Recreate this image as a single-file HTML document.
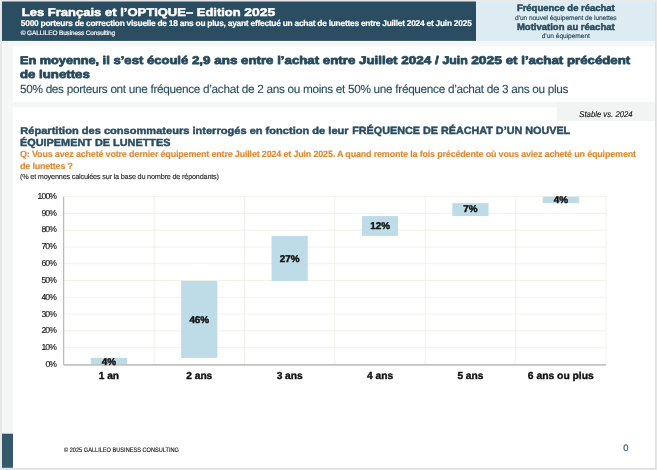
<!DOCTYPE html><html><head><meta charset="utf-8"><title>slide</title><style>
html,body{margin:0;padding:0;}body{width:657px;height:470px;background:#e8e8e8;position:relative;overflow:hidden;font-family:"Liberation Sans",sans-serif;}
.r{position:absolute;}svg{position:absolute;left:0;top:0;will-change:transform;}text{font-family:"Liberation Sans",sans-serif;white-space:pre;text-rendering:geometricPrecision;}
</style></head><body>
<svg width="657" height="470" viewBox="0 0 657 470">
<rect x="2" y="1.5" width="654.2" height="467.5" fill="#dedede"/>
<rect x="2" y="1.5" width="653" height="466.3" fill="#f5f6f6"/>
<rect x="2" y="41" width="653" height="1.2" fill="#fbfcfc"/>
<rect x="476" y="1.5" width="2" height="39.7" fill="#e1edf3"/>
<rect x="2" y="1.5" width="474" height="39.4" fill="#2a4d61"/>
<rect x="478" y="1.5" width="177" height="39.7" fill="#ddebf2"/>
<rect x="13" y="46.5" width="642" height="55.4" fill="#ffffff"/>
<rect x="13" y="107.4" width="642" height="360.4" fill="#ffffff"/>
<rect x="557" y="102" width="98" height="19" fill="#f2f4f4"/>
<rect x="2" y="433.7" width="11" height="34.1" fill="#33596a"/>
<line x1="63.7" x2="606.0" y1="347.62" y2="347.62" stroke="#efefe4" stroke-width="0.8"/>
<line x1="63.7" x2="606.0" y1="330.84" y2="330.84" stroke="#efefe4" stroke-width="0.8"/>
<line x1="63.7" x2="606.0" y1="314.06" y2="314.06" stroke="#efefe4" stroke-width="0.8"/>
<line x1="63.7" x2="606.0" y1="297.28" y2="297.28" stroke="#efefe4" stroke-width="0.8"/>
<line x1="63.7" x2="606.0" y1="280.50" y2="280.50" stroke="#efefe4" stroke-width="0.8"/>
<line x1="63.7" x2="606.0" y1="263.72" y2="263.72" stroke="#efefe4" stroke-width="0.8"/>
<line x1="63.7" x2="606.0" y1="246.94" y2="246.94" stroke="#efefe4" stroke-width="0.8"/>
<line x1="63.7" x2="606.0" y1="230.16" y2="230.16" stroke="#efefe4" stroke-width="0.8"/>
<line x1="63.7" x2="606.0" y1="213.38" y2="213.38" stroke="#efefe4" stroke-width="0.8"/>
<line x1="63.7" x2="606.0" y1="196.60" y2="196.60" stroke="#efefe4" stroke-width="0.8"/>
<line x1="154.08" x2="154.08" y1="196.6" y2="364.4" stroke="#efefe4" stroke-width="0.8"/>
<line x1="244.47" x2="244.47" y1="196.6" y2="364.4" stroke="#efefe4" stroke-width="0.8"/>
<line x1="334.85" x2="334.85" y1="196.6" y2="364.4" stroke="#efefe4" stroke-width="0.8"/>
<line x1="425.23" x2="425.23" y1="196.6" y2="364.4" stroke="#efefe4" stroke-width="0.8"/>
<line x1="515.62" x2="515.62" y1="196.6" y2="364.4" stroke="#efefe4" stroke-width="0.8"/>
<line x1="606.00" x2="606.00" y1="196.6" y2="364.4" stroke="#efefe4" stroke-width="0.8"/>
<rect x="90.79" y="357.86" width="36.20" height="6.54" fill="#bddce7"/>
<rect x="181.17" y="280.92" width="36.20" height="76.94" fill="#bddce7"/>
<rect x="271.56" y="235.87" width="36.20" height="45.05" fill="#bddce7"/>
<rect x="361.94" y="216.06" width="36.20" height="19.80" fill="#bddce7"/>
<rect x="452.32" y="203.14" width="36.20" height="12.92" fill="#bddce7"/>
<rect x="542.71" y="196.60" width="36.20" height="6.54" fill="#bddce7"/>
<line x1="63.7" x2="63.7" y1="196.6" y2="364.79999999999995" stroke="#a0a0a0" stroke-width="0.9"/>
<line x1="63.300000000000004" x2="606.0" y1="364.9" y2="364.9" stroke="#c2c2c2" stroke-width="1.6"/>
<text id="t2" x="20.80" y="26.40" font-size="8.4" font-weight="700" fill="#fff" text-anchor="start" textLength="451" lengthAdjust="spacing" stroke="#fff" stroke-width="0.2" stroke-linejoin="round">5000 porteurs de correction visuelle de 18 ans ou plus, ayant effectué un achat de lunettes entre Juillet 2024 et Juin 2025</text>
<text id="t3" x="20.80" y="34.60" font-size="6.5" font-weight="400" fill="#fff" text-anchor="start" textLength="94.3" lengthAdjust="spacing" stroke="#fff" stroke-width="0.15" stroke-linejoin="round">© GALLILEO Business Consulting</text>
<text id="h1" x="565.80" y="10.90" font-size="9.3" font-weight="700" fill="#2a4d61" text-anchor="middle" textLength="97.8" lengthAdjust="spacingAndGlyphs" stroke="#2a4d61" stroke-width="0.5" stroke-linejoin="round">Fréquence de réachat</text>
<text id="h2" x="565.80" y="20.10" font-size="6.6" font-weight="400" fill="#2a4d61" text-anchor="middle" textLength="101.6" lengthAdjust="spacing" stroke="#2a4d61" stroke-width="0.15" stroke-linejoin="round">d’un nouvel équipement de lunettes</text>
<text id="h3" x="565.80" y="29.70" font-size="9.3" font-weight="700" fill="#2a4d61" text-anchor="middle" textLength="97.8" lengthAdjust="spacingAndGlyphs" stroke="#2a4d61" stroke-width="0.5" stroke-linejoin="round">Motivation au réachat</text>
<text id="h4" x="565.80" y="38.30" font-size="6.6" font-weight="400" fill="#2a4d61" text-anchor="middle" textLength="48.2" lengthAdjust="spacing" stroke="#2a4d61" stroke-width="0.15" stroke-linejoin="round">d’un équipement</text>
<text id="b2" x="20.00" y="77.90" font-size="11.2" font-weight="700" fill="#26495d" text-anchor="start" textLength="69.8" lengthAdjust="spacingAndGlyphs" stroke="#26495d" stroke-width="0.75" stroke-linejoin="round">de lunettes</text>
<text id="b3" x="20.00" y="93.00" font-size="11.8" font-weight="400" fill="#2a4d61" text-anchor="start" textLength="548.5" lengthAdjust="spacing" stroke="#2a4d61" stroke-width="0.12" stroke-linejoin="round">50% des porteurs ont une fréquence d’achat de 2 ans ou moins et 50% une fréquence d’achat de 3 ans ou plus</text>
<text id="st" x="579.30" y="117.20" font-size="8.4" font-weight="400" fill="#111" text-anchor="start" textLength="53.3" lengthAdjust="spacingAndGlyphs" stroke="#111" stroke-width="0.12" stroke-linejoin="round" font-style="italic">Stable vs. 2024</text>
<text id="c1" x="20.30" y="133.70" font-size="10.0" font-weight="700" fill="#2a4d61" text-anchor="start" textLength="328.3" lengthAdjust="spacingAndGlyphs" stroke="#2a4d61" stroke-width="0.45" stroke-linejoin="round">Répartition des consommateurs interrogés en fonction de leur</text>
<text id="c1b" x="352.20" y="133.50" font-size="10.5" font-weight="700" fill="#2a4d61" text-anchor="start" textLength="218.0" lengthAdjust="spacingAndGlyphs" stroke="#2a4d61" stroke-width="0.45" stroke-linejoin="round">FRÉQUENCE DE RÉACHAT D’UN NOUVEL</text>
<text id="c2" x="20.00" y="145.80" font-size="10.3" font-weight="700" fill="#2a4d61" text-anchor="start" textLength="150.5" lengthAdjust="spacingAndGlyphs" stroke="#2a4d61" stroke-width="0.45" stroke-linejoin="round">ÉQUIPEMENT DE LUNETTES</text>
<text id="q1" x="20.00" y="157.30" font-size="9.0" font-weight="700" fill="#df8a30" text-anchor="start" textLength="616" lengthAdjust="spacing" stroke="#df8a30" stroke-width="0.15" stroke-linejoin="round">Q: Vous avez acheté votre dernier équipement entre Juillet 2024 et Juin 2025. A quand remonte la fois précédente où vous aviez acheté un équipement</text>
<text id="q2" x="20.00" y="168.80" font-size="9.0" font-weight="700" fill="#df8a30" text-anchor="start" textLength="53" lengthAdjust="spacing" stroke="#df8a30" stroke-width="0.15" stroke-linejoin="round">de lunettes ?</text>
<text id="n1" x="20.00" y="179.40" font-size="7.3" font-weight="400" fill="#222" text-anchor="start" textLength="199" lengthAdjust="spacing" stroke="#222" stroke-width="0.1" stroke-linejoin="round">(% et moyennes calculées sur la base du nombre de répondants)</text>
<text id="f1" x="64.00" y="451.70" font-size="6.5" font-weight="400" fill="#111" text-anchor="start" textLength="115" lengthAdjust="spacingAndGlyphs" stroke="#111" stroke-width="0.12" stroke-linejoin="round">© 2025 GALLILEO BUSINESS CONSULTING</text>
<text id="f2" x="623.20" y="451.00" font-size="9.4" font-weight="400" fill="#3b6277" text-anchor="start" stroke="#3b6277" stroke-width="0.2" stroke-linejoin="round">0</text>
<text id="b1_0" x="20.00" y="63.60" font-size="11.2" font-weight="700" fill="#26495d" text-anchor="start" textLength="82.6" lengthAdjust="spacingAndGlyphs" stroke="#26495d" stroke-width="0.75" stroke-linejoin="round">En moyenne, </text>
<text id="b1_1" x="102.60" y="63.60" font-size="11.2" font-weight="700" fill="#26495d" text-anchor="start" textLength="89.3" lengthAdjust="spacingAndGlyphs" stroke="#26495d" stroke-width="0.75" stroke-linejoin="round">il s’est écoulé </text>
<text id="b1_2" x="191.90" y="63.60" font-size="11.2" font-weight="700" fill="#26495d" text-anchor="start" textLength="49.2" lengthAdjust="spacingAndGlyphs" stroke="#26495d" stroke-width="0.75" stroke-linejoin="round">2,9 ans </text>
<text id="b1_3" x="241.10" y="63.60" font-size="11.2" font-weight="700" fill="#26495d" text-anchor="start" textLength="81.7" lengthAdjust="spacingAndGlyphs" stroke="#26495d" stroke-width="0.75" stroke-linejoin="round">entre l’achat </text>
<text id="b1_4" x="322.80" y="63.60" font-size="11.2" font-weight="700" fill="#26495d" text-anchor="start" textLength="78.4" lengthAdjust="spacingAndGlyphs" stroke="#26495d" stroke-width="0.75" stroke-linejoin="round">entre Juillet </text>
<text id="b1_5" x="401.20" y="63.60" font-size="11.2" font-weight="700" fill="#26495d" text-anchor="start" textLength="41.2" lengthAdjust="spacingAndGlyphs" stroke="#26495d" stroke-width="0.75" stroke-linejoin="round">2024 / </text>
<text id="b1_6" x="442.40" y="63.60" font-size="11.2" font-weight="700" fill="#26495d" text-anchor="start" textLength="28.8" lengthAdjust="spacingAndGlyphs" stroke="#26495d" stroke-width="0.75" stroke-linejoin="round">Juin </text>
<text id="b1_7" x="471.20" y="63.60" font-size="11.2" font-weight="700" fill="#26495d" text-anchor="start" textLength="34.5" lengthAdjust="spacingAndGlyphs" stroke="#26495d" stroke-width="0.75" stroke-linejoin="round">2025 </text>
<text id="b1_8" x="505.70" y="63.60" font-size="11.2" font-weight="700" fill="#26495d" text-anchor="start" textLength="61.3" lengthAdjust="spacingAndGlyphs" stroke="#26495d" stroke-width="0.75" stroke-linejoin="round">et l’achat </text>
<text id="b1_9" x="567.00" y="63.60" font-size="11.2" font-weight="700" fill="#26495d" text-anchor="start" textLength="63.2" lengthAdjust="spacingAndGlyphs" stroke="#26495d" stroke-width="0.75" stroke-linejoin="round">précédent</text>
<text id="t1_0" x="21.80" y="16.20" font-size="11.2" font-weight="700" fill="#fff" text-anchor="start" textLength="175.0" lengthAdjust="spacingAndGlyphs" stroke="#fff" stroke-width="0.5" stroke-linejoin="round">Les Français et l’OPTIQUE– </text>
<text id="t1_1" x="196.80" y="16.20" font-size="11.2" font-weight="700" fill="#fff" text-anchor="start" textLength="47.5" lengthAdjust="spacingAndGlyphs" stroke="#fff" stroke-width="0.5" stroke-linejoin="round">Edition </text>
<text id="t1_2" x="244.30" y="16.20" font-size="11.2" font-weight="700" fill="#fff" text-anchor="start" textLength="31.0" lengthAdjust="spacingAndGlyphs" stroke="#fff" stroke-width="0.5" stroke-linejoin="round">2025</text>
<text id="x0" x="108.89" y="379.30" font-size="10.2" font-weight="700" fill="#111" text-anchor="middle" stroke="#111" stroke-width="0.4" stroke-linejoin="round">1 an</text>
<text id="v0" x="108.89" y="365.03" font-size="9.9" font-weight="700" fill="#111" text-anchor="middle" stroke="#111" stroke-width="0.45" stroke-linejoin="round">4%</text>
<text id="x1" x="199.27" y="379.30" font-size="10.2" font-weight="700" fill="#111" text-anchor="middle" stroke="#111" stroke-width="0.4" stroke-linejoin="round">2 ans</text>
<text id="v1" x="199.27" y="322.89" font-size="9.9" font-weight="700" fill="#111" text-anchor="middle" stroke="#111" stroke-width="0.45" stroke-linejoin="round">46%</text>
<text id="x2" x="289.66" y="379.30" font-size="10.2" font-weight="700" fill="#111" text-anchor="middle" stroke="#111" stroke-width="0.4" stroke-linejoin="round">3 ans</text>
<text id="v2" x="289.66" y="262.29" font-size="9.9" font-weight="700" fill="#111" text-anchor="middle" stroke="#111" stroke-width="0.45" stroke-linejoin="round">27%</text>
<text id="x3" x="380.04" y="379.30" font-size="10.2" font-weight="700" fill="#111" text-anchor="middle" stroke="#111" stroke-width="0.4" stroke-linejoin="round">4 ans</text>
<text id="v3" x="380.04" y="229.16" font-size="9.9" font-weight="700" fill="#111" text-anchor="middle" stroke="#111" stroke-width="0.45" stroke-linejoin="round">12%</text>
<text id="x4" x="470.42" y="379.30" font-size="10.2" font-weight="700" fill="#111" text-anchor="middle" stroke="#111" stroke-width="0.4" stroke-linejoin="round">5 ans</text>
<text id="v4" x="470.42" y="212.30" font-size="9.9" font-weight="700" fill="#111" text-anchor="middle" stroke="#111" stroke-width="0.45" stroke-linejoin="round">7%</text>
<text id="x5" x="560.81" y="379.30" font-size="10.2" font-weight="700" fill="#111" text-anchor="middle" textLength="66.0" lengthAdjust="spacingAndGlyphs" stroke="#111" stroke-width="0.4" stroke-linejoin="round">6 ans ou plus</text>
<text id="v5" x="560.81" y="202.87" font-size="9.9" font-weight="700" fill="#111" text-anchor="middle" stroke="#111" stroke-width="0.45" stroke-linejoin="round">4%</text>
<text id="y0" x="57.00" y="367.00" font-size="8.6" font-weight="400" fill="#111" text-anchor="end" textLength="11.6" lengthAdjust="spacing" stroke="#111" stroke-width="0.12" stroke-linejoin="round">0%</text>
<text id="y1" x="57.00" y="350.17" font-size="8.6" font-weight="400" fill="#111" text-anchor="end" textLength="15.6" lengthAdjust="spacing" stroke="#111" stroke-width="0.12" stroke-linejoin="round">10%</text>
<text id="y2" x="57.00" y="333.34" font-size="8.6" font-weight="400" fill="#111" text-anchor="end" textLength="15.6" lengthAdjust="spacing" stroke="#111" stroke-width="0.12" stroke-linejoin="round">20%</text>
<text id="y3" x="57.00" y="316.51" font-size="8.6" font-weight="400" fill="#111" text-anchor="end" textLength="15.6" lengthAdjust="spacing" stroke="#111" stroke-width="0.12" stroke-linejoin="round">30%</text>
<text id="y4" x="57.00" y="299.68" font-size="8.6" font-weight="400" fill="#111" text-anchor="end" textLength="15.6" lengthAdjust="spacing" stroke="#111" stroke-width="0.12" stroke-linejoin="round">40%</text>
<text id="y5" x="57.00" y="282.85" font-size="8.6" font-weight="400" fill="#111" text-anchor="end" textLength="15.6" lengthAdjust="spacing" stroke="#111" stroke-width="0.12" stroke-linejoin="round">50%</text>
<text id="y6" x="57.00" y="266.02" font-size="8.6" font-weight="400" fill="#111" text-anchor="end" textLength="15.6" lengthAdjust="spacing" stroke="#111" stroke-width="0.12" stroke-linejoin="round">60%</text>
<text id="y7" x="57.00" y="249.19" font-size="8.6" font-weight="400" fill="#111" text-anchor="end" textLength="15.6" lengthAdjust="spacing" stroke="#111" stroke-width="0.12" stroke-linejoin="round">70%</text>
<text id="y8" x="57.00" y="232.36" font-size="8.6" font-weight="400" fill="#111" text-anchor="end" textLength="15.6" lengthAdjust="spacing" stroke="#111" stroke-width="0.12" stroke-linejoin="round">80%</text>
<text id="y9" x="57.00" y="215.53" font-size="8.6" font-weight="400" fill="#111" text-anchor="end" textLength="15.6" lengthAdjust="spacing" stroke="#111" stroke-width="0.12" stroke-linejoin="round">90%</text>
<text id="y10" x="57.00" y="198.70" font-size="8.6" font-weight="400" fill="#111" text-anchor="end" textLength="19.5" lengthAdjust="spacing" stroke="#111" stroke-width="0.12" stroke-linejoin="round">100%</text>
</svg>
</body></html>
